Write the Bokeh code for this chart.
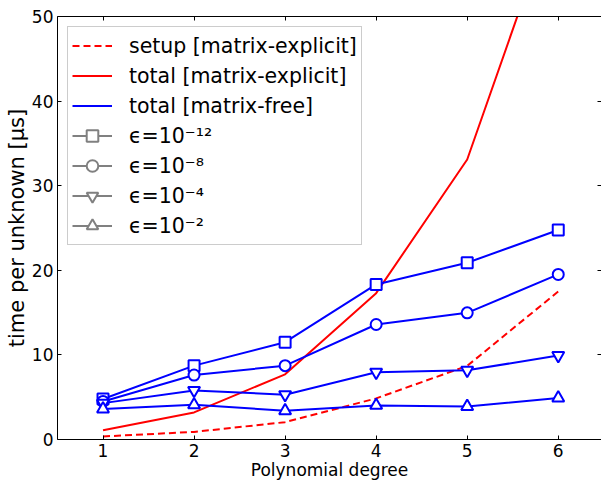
from bokeh.plotting import figure
from bokeh.models import ColumnDataSource, Legend, LegendItem, LinearAxis, FixedTicker, Range1d
from bokeh.embed import file_html
from bokeh.resources import INLINE

# ---- data ----
degrees = [1, 2, 3, 4, 5, 6]
setup_explicit = [0.36, 0.9, 2.05, 4.86, 8.7, 17.5]
total_explicit = [1.1, 3.2, 7.7, 17.3, 33.1, 63.8]
free_eps12 = [4.78, 8.73, 11.5, 18.33, 20.89, 24.76]
free_eps8 = [4.5, 7.62, 8.73, 13.59, 14.97, 19.51]
free_eps4 = [4.3, 5.8, 5.3, 7.94, 8.18, 9.92]
free_eps2 = [3.6, 4.1, 3.4, 4.03, 3.91, 4.9]
eps_labels = ["ϵ=10⁻¹²", "ϵ=10⁻⁸", "ϵ=10⁻⁴", "ϵ=10⁻²"]
eps_markers = ["square", "circle", "inverted_triangle", "triangle"]
series_labels = ["setup [matrix-explicit]", "total [matrix-explicit]", "total [matrix-free]"]
x_ticks = [1, 2, 3, 4, 5, 6]
y_ticks = [0, 10, 20, 30, 40, 50]
x_label = "Polynomial degree"
y_label = "time per unknown [μs]"

FONT = "DejaVu Sans"
RED = "#ff0000"
BLUE = "#0000ff"
GRAY = "#808080"

p = figure(width=601, height=482, output_backend="svg", toolbar_location=None,
           x_range=Range1d(0.5, 6.475), y_range=Range1d(0, 50),
           min_border_left=57, min_border_right=0, min_border_top=16, min_border_bottom=43,
           x_axis_location=None, y_axis_location=None)
p.grid.visible = False
p.outline_line_color = None
p.background_fill_color = "white"
p.border_fill_color = "white"


def style_axis(ax, ticks, labels=True, label_size="17px"):
    ax.ticker = FixedTicker(ticks=ticks)
    ax.major_tick_in = 4
    ax.major_tick_out = 0
    ax.minor_tick_line_color = None
    ax.axis_line_color = "black"
    ax.axis_line_width = 1
    ax.major_tick_line_color = "black"
    if labels:
        ax.major_label_text_font = FONT
        ax.major_label_text_font_size = "17px"
        ax.major_label_text_color = "black"
        ax.major_label_standoff = 4
        ax.axis_label_text_font = FONT
        ax.axis_label_text_font_size = label_size
        ax.axis_label_text_font_style = "normal"
        ax.axis_label_text_color = "black"
        ax.axis_label_standoff = 0
    else:
        ax.major_label_text_color = None
        ax.major_label_standoff = 0


xb = LinearAxis(axis_label=x_label)
style_axis(xb, x_ticks, label_size="17px")
p.add_layout(xb, "below")
yl = LinearAxis(axis_label=y_label)
style_axis(yl, y_ticks, label_size="21px")
p.add_layout(yl, "left")
xt = LinearAxis()
style_axis(xt, x_ticks, labels=False)
p.add_layout(xt, "above")
yr = LinearAxis()
style_axis(yr, y_ticks, labels=False)
yr.axis_line_color = None
p.add_layout(yr, "right")

# red matrix-explicit curves
r_setup = p.line(degrees, setup_explicit, line_color=RED, line_width=2, line_dash="7 4")
r_total = p.line(degrees, total_explicit, line_color=RED, line_width=2)

# blue matrix-free curves with markers
free_series = [free_eps12, free_eps8, free_eps4, free_eps2]
marker_sizes = [11, 11, 12, 12]
blue_line = None
for vals, mk, sz in zip(free_series, eps_markers, marker_sizes):
    src = ColumnDataSource(dict(x=degrees, y=vals))
    ln = p.line("x", "y", source=src, line_color=BLUE, line_width=2)
    p.scatter("x", "y", source=src, marker=mk, size=sz, line_color=BLUE,
              line_width=2, fill_color="white")
    if blue_line is None:
        blue_line = ln

# legend-only gray glyphs (no visible data)
nan = float("nan")
items = [LegendItem(label=series_labels[0], renderers=[r_setup]),
         LegendItem(label=series_labels[1], renderers=[r_total]),
         LegendItem(label=series_labels[2], renderers=[blue_line])]
for lab, mk, sz in zip(eps_labels, eps_markers, marker_sizes):
    dummy = ColumnDataSource(dict(x=[nan], y=[nan]))
    gl = p.line("x", "y", source=dummy, line_color=GRAY, line_width=2)
    gs = p.scatter("x", "y", source=dummy, marker=mk, size=sz, line_color=GRAY,
                   line_width=2, fill_color="white")
    items.append(LegendItem(label=lab, renderers=[gl, gs]))

legend = Legend(items=items, location="top_left", margin=10, padding=4,
                spacing=1, glyph_width=40, glyph_height=29, label_height=20,
                label_standoff=17, label_text_font=FONT, label_text_font_size="20.5px",
                label_text_color="black",
                border_line_color="#999999", border_line_width=1,
                background_fill_color="white", background_fill_alpha=1)
p.add_layout(legend, "center")

open("out.html", "w").write(file_html(p, INLINE))
